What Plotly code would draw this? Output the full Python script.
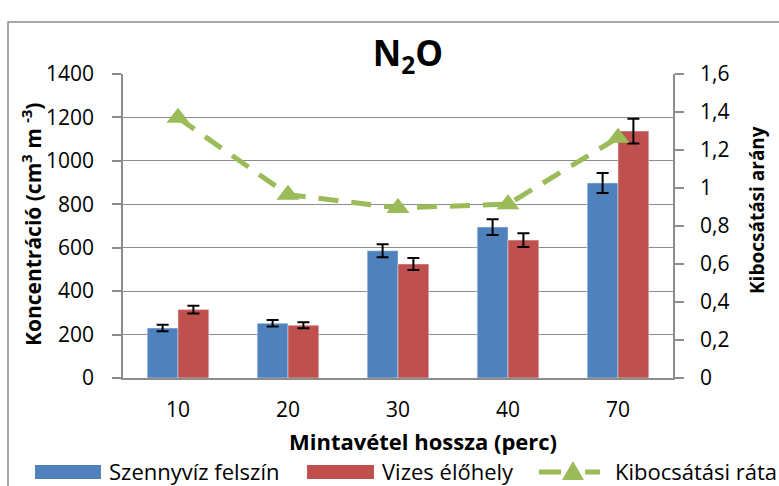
import plotly.graph_objects as go

# data
categories = ["10", "20", "30", "40", "70"]
szennyviz = [230, 252, 586, 695, 898]
szennyviz_err = [15, 15, 30, 36, 46]
vizes = [315, 243, 525, 635, 1137]
vizes_err = [18, 14, 28, 32, 57]
rata = [1.37, 0.965, 0.895, 0.915, 1.265]

BLUE = "#4F81BD"
RED = "#C0504D"
GREEN = "#9BBB59"
GRID = "#8C8C8C"
FONT = "Open Sans"

W, H = 779, 486
L, R, T, B = 123, 673, 74, 378  # plot area in pixels


def px(x):
    return (x - L) / (R - L)


def py(y):
    return (B - y) / (B - T)


def label(text, x, y, **kw):
    # paper-positioned text, centred unless told otherwise
    opts = dict(xanchor="center", yanchor="middle", showarrow=False)
    opts.update(kw)
    fig.add_annotation(text=text, xref="paper", yref="paper", x=px(x), y=py(y), **opts)


fig = go.Figure()
fig.add_trace(go.Bar(
    x=categories, y=szennyviz, name="Szennyvíz felszín",
    marker=dict(color=BLUE),
    error_y=dict(type="data", array=szennyviz_err, color="black", thickness=2, width=6),
))
fig.add_trace(go.Bar(
    x=categories, y=vizes, name="Vizes élőhely",
    marker=dict(color=RED),
    error_y=dict(type="data", array=vizes_err, color="black", thickness=2, width=6),
))
fig.add_trace(go.Scatter(
    x=categories, y=rata, name="Kibocsátási ráta", yaxis="y2",
    mode="lines+markers",
    line=dict(color=GREEN, width=5, dash="20px,13px"),
    marker=dict(symbol="triangle-up", size=20, color=GREEN),
))

fig.update_layout(
    width=W, height=H,
    margin=dict(l=L, r=W - R, t=T, b=H - B),
    paper_bgcolor="white", plot_bgcolor="white",
    font=dict(family=FONT, size=21, color="black"),
    separators=",.",
    barmode="group", bargap=0.44, bargroupgap=0,
    showlegend=False,
    title=dict(text="<b>N<sub>2</sub>O</b>", x=408 / W, xanchor="center",
               y=1 - 54 / H, yanchor="middle", font=dict(size=35)),
    xaxis=dict(showline=True, linecolor=GRID, linewidth=1.5, ticks="",
               ticklabelstandoff=12, automargin=False),
    yaxis=dict(range=[0, 1400], dtick=200, showgrid=True, gridcolor=GRID, gridwidth=1.3,
               showline=True, linecolor=GRID, linewidth=1.5, ticks="outside",
               ticklen=9, tickcolor=GRID, tickwidth=1.5, ticklabelstandoff=14,
               zeroline=False, automargin=False),
    yaxis2=dict(range=[0, 1.6], dtick=0.2, overlaying="y", side="right", showgrid=False,
                showline=True, linecolor=GRID, linewidth=1.5, ticks="outside",
                ticklen=9, tickcolor=GRID, tickwidth=1.5, ticklabelstandoff=12,
                zeroline=False, automargin=False),
)

# axis titles
label("<b>Koncentráció (cm<sup>3</sup> m <sup>-3</sup>)</b>", 31, 225, textangle=-90)
label("<b>Kibocsátási arány</b>", 757, 210, textangle=-90, font=dict(size=19))
label("<b>Mintavétel hossza (perc)</b>", 423, 441, font=dict(size=22))

# outer chart border
fig.add_shape(type="rect", xref="paper", yref="paper",
              x0=px(8), x1=px(800), y0=py(520), y1=py(22),
              line=dict(color="#8A8A8A", width=1.5), layer="below")

# legend drawn by hand to get Excel-like wide swatches
ly = 471
fig.add_shape(type="rect", xref="paper", yref="paper",
              x0=px(35), x1=px(101), y0=py(479), y1=py(465),
              fillcolor=BLUE, line=dict(width=0))
label("Szennyvíz felszín", 107, ly, xanchor="left", font=dict(size=22))
fig.add_shape(type="rect", xref="paper", yref="paper",
              x0=px(307), x1=px(374), y0=py(479), y1=py(465),
              fillcolor=RED, line=dict(width=0))
label("Vizes élőhely", 380, ly, xanchor="left", font=dict(size=22))
fig.add_shape(type="line", xref="paper", yref="paper",
              x0=px(539), x1=px(561), y0=py(472), y1=py(472),
              line=dict(color=GREEN, width=5))
fig.add_shape(type="line", xref="paper", yref="paper",
              x0=px(585), x1=px(600), y0=py(472), y1=py(472),
              line=dict(color=GREEN, width=5))
fig.add_shape(type="path", xref="paper", yref="paper",
              path=f"M {px(562)} {py(480)} L {px(584)} {py(480)} L {px(573)} {py(461)} Z",
              fillcolor=GREEN, line=dict(width=0))
label("Kibocsátási ráta", 613, ly, xanchor="left", font=dict(size=22))

# drop the default body margin so the figure sits at the page corner
fig.write_html("out.html", config={"displayModeBar": False},
               post_script="document.body.style.margin='0';")
